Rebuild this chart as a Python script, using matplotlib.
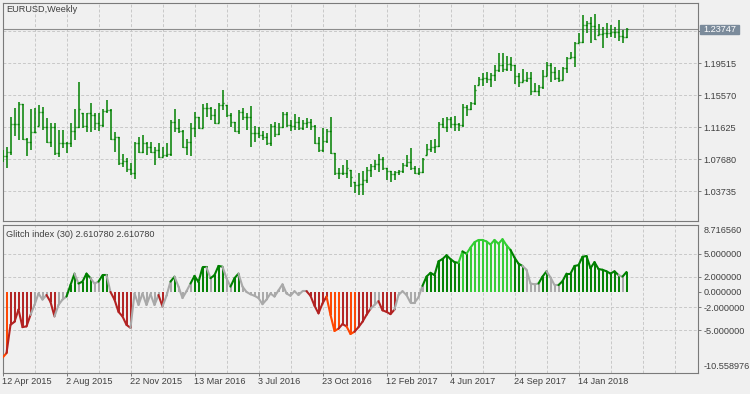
import numpy as np
import pandas as pd
import matplotlib
matplotlib.use("Agg")
import matplotlib.pyplot as plt
from matplotlib.collections import LineCollection
from matplotlib.patches import Rectangle

W, H = 750, 394
plt.rcParams["font.family"] = ["Liberation Sans", "DejaVu Sans"]
FS = 6.6
TXT = "#404040"
BG = "#f0f0f0"
GRID = "#c8c8c8"
BORDER = "#7a7a7a"
BAR = "#008000"

# weekly EURUSD bars, first bar = week of 12 Apr 2015
start_date = "2015-04-12"
open0 = 1.0760
high = [1.0882, 1.0924, 1.1293, 1.1405, 1.1474, 1.1450, 1.1026, 1.1384, 1.1396, 1.1433,
        1.1413, 1.1281, 1.1211, 1.1211, 1.1129, 1.1129, 1.0985, 1.1211, 1.1384, 1.1725,
        1.1335, 1.1343, 1.1458, 1.1335, 1.1335, 1.1388, 1.1499, 1.1384, 1.1108, 1.1047,
        1.0833, 1.0780, 1.0718, 1.0985, 1.1047, 1.1067, 1.0985, 1.0985, 1.0924, 1.0965,
        1.0924, 1.0973, 1.1252, 1.1384, 1.1265, 1.1129, 1.1014, 1.1211, 1.1347, 1.1293,
        1.1450, 1.1458, 1.1417, 1.1384, 1.1458, 1.1622, 1.1437, 1.1335, 1.1232, 1.1376,
        1.1396, 1.1335, 1.1425, 1.1179, 1.1162, 1.1121, 1.1096, 1.1203, 1.1232, 1.1220,
        1.1355, 1.1355, 1.1252, 1.1326, 1.1285, 1.1252, 1.1273, 1.1260, 1.1191, 1.1047,
        1.1149, 1.1137, 1.1293, 1.0841, 1.0657, 1.0698, 1.0759, 1.0636, 1.0492, 1.0595,
        1.0628, 1.0677, 1.0710, 1.0759, 1.0829, 1.0800, 1.0657, 1.0628, 1.0628, 1.0636,
        1.0718, 1.0817, 1.0903, 1.0690, 1.0657, 1.0780, 1.0957, 1.1006, 1.1014, 1.1232,
        1.1273, 1.1285, 1.1293, 1.1301, 1.1220, 1.1450, 1.1437, 1.1478, 1.1684, 1.1787,
        1.1836, 1.1848, 1.1836, 1.1931, 1.2074, 1.2083, 1.2042, 1.2033, 1.1931, 1.1828,
        1.1881, 1.1848, 1.1848, 1.1704, 1.1684, 1.1869, 1.1972, 1.1960, 1.1910, 1.1869,
        1.1910, 1.2033, 1.2095, 1.2218, 1.2321, 1.2547, 1.2477, 1.2526, 1.2555, 1.2436,
        1.2403, 1.2444, 1.2424, 1.2403, 1.2485, 1.2362, 1.2382]
low = [1.0739, 1.0657, 1.0820, 1.1055, 1.1006, 1.1006, 1.0813, 1.0882, 1.1088, 1.1179,
       1.1129, 1.0965, 1.0924, 1.0821, 1.0800, 1.0903, 1.0841, 1.0924, 1.1006, 1.1149,
       1.1149, 1.1108, 1.1108, 1.1129, 1.1121, 1.1170, 1.1335, 1.1006, 1.0862, 1.0698,
       1.0677, 1.0616, 1.0575, 1.0521, 1.0841, 1.0841, 1.0821, 1.0841, 1.0698, 1.0780,
       1.0792, 1.0800, 1.0813, 1.1108, 1.1088, 1.0903, 1.0821, 1.0813, 1.1047, 1.1137,
       1.1149, 1.1293, 1.1252, 1.1203, 1.1211, 1.1376, 1.1293, 1.1170, 1.1108, 1.1080,
       1.1252, 1.1129, 1.0924, 1.0985, 1.1026, 1.1006, 1.0944, 1.0932, 1.1047, 1.1067,
       1.1149, 1.1170, 1.1121, 1.1129, 1.1129, 1.1129, 1.1149, 1.1129, 1.0957, 1.0862,
       1.0862, 1.0965, 1.0833, 1.0575, 1.0521, 1.0575, 1.0534, 1.0430, 1.0356, 1.0328,
       1.0328, 1.0471, 1.0554, 1.0636, 1.0616, 1.0636, 1.0513, 1.0492, 1.0513, 1.0575,
       1.0595, 1.0669, 1.0636, 1.0587, 1.0575, 1.0595, 1.0821, 1.0862, 1.0841, 1.0924,
       1.1149, 1.1108, 1.1149, 1.1121, 1.1121, 1.1170, 1.1301, 1.1376, 1.1437, 1.1684,
       1.1672, 1.1713, 1.1655, 1.1733, 1.1848, 1.1848, 1.1861, 1.1861, 1.1696, 1.1663,
       1.1725, 1.1725, 1.1561, 1.1594, 1.1548, 1.1630, 1.1795, 1.1725, 1.1746, 1.1725,
       1.1746, 1.1836, 1.2013, 1.1910, 1.2198, 1.2206, 1.2329, 1.2198, 1.2239, 1.2300,
       1.2144, 1.2259, 1.2272, 1.2259, 1.2231, 1.2206, 1.2259]
close = [1.0808, 1.0862, 1.1203, 1.1203, 1.1450, 1.1014, 1.0985, 1.1108, 1.1108, 1.1355,
         1.1170, 1.0985, 1.1170, 1.0841, 1.0973, 1.0973, 1.0965, 1.1117, 1.1170, 1.1384,
         1.1179, 1.1335, 1.1314, 1.1211, 1.1191, 1.1368, 1.1376, 1.1014, 1.1047, 1.0718,
         1.0751, 1.0644, 1.0595, 1.0965, 1.0862, 1.0973, 1.0924, 1.0862, 1.0882, 1.0800,
         1.0821, 1.0833, 1.1232, 1.1149, 1.1121, 1.0924, 1.0985, 1.1149, 1.1285, 1.1149,
         1.1396, 1.1396, 1.1314, 1.1220, 1.1437, 1.1458, 1.1314, 1.1232, 1.1121, 1.1355,
         1.1293, 1.1285, 1.1088, 1.1088, 1.1067, 1.1039, 1.0973, 1.1179, 1.1080, 1.1170,
         1.1322, 1.1191, 1.1179, 1.1232, 1.1149, 1.1220, 1.1232, 1.1179, 1.0973, 1.0882,
         1.0998, 1.1121, 1.0850, 1.0595, 1.0595, 1.0603, 1.0657, 1.0546, 1.0451, 1.0463,
         1.0513, 1.0636, 1.0685, 1.0710, 1.0768, 1.0657, 1.0628, 1.0587, 1.0616, 1.0628,
         1.0698, 1.0739, 1.0657, 1.0603, 1.0616, 1.0768, 1.0895, 1.0924, 1.0932, 1.1203,
         1.1170, 1.1260, 1.1203, 1.1203, 1.1191, 1.1417, 1.1384, 1.1458, 1.1622, 1.1754,
         1.1766, 1.1754, 1.1807, 1.1869, 1.1931, 1.1877, 1.1943, 1.1931, 1.1795, 1.1725,
         1.1746, 1.1766, 1.1614, 1.1614, 1.1655, 1.1795, 1.1931, 1.1848, 1.1766, 1.1746,
         1.1890, 1.2013, 1.2025, 1.2198, 1.2218, 1.2424, 1.2444, 1.2411, 1.2247, 1.2313,
         1.2321, 1.2321, 1.2342, 1.2342, 1.2288, 1.2272, 1.23747]
bid = 1.23747

price_ticks = [1.03735, 1.07680, 1.11625, 1.15570, 1.19515, 1.23460]

# Glitch index (30) values and colour state per bar
# O = strong down, R = down, G = neutral, N = up, L = strong up
glitch = [-8.6, -8.0, -4.3, -3.9, -2.3, -4.6, -4.5, -3.0, -1.7, -0.2,
          -1.0, -0.4, -1.3, -3.2, -1.7, -1.0, -0.6, 0.9, 2.4, 1.1,
          1.35, 2.4, 1.8, 1.1, 1.35, 2.2, 2.2, 0.0, -1.0, -2.6,
          -3.2, -4.3, -4.7, -0.2, -1.7, -0.2, -1.7, -0.3, -1.7, -0.4,
          -1.9, -0.5, 1.35, 2.0, 0.7, -0.8, 0.1, 1.1, 2.1, 1.3,
          3.2, 3.2, 1.8, 2.2, 3.4, 3.3, 1.8, 0.7, 1.8, 2.4,
          0.7, 0.0, -0.3, -0.5, -0.8, -1.6, -1.0, -0.2, -0.6, 0.2,
          1.0, -0.2, -0.5, 0.1, -0.4, 0.1, 0.1, -0.5, -1.8, -2.8,
          -1.5, -0.6, -3.0, -5.1, -4.8, -4.2, -4.5, -5.5, -5.2, -4.6,
          -3.9, -3.0, -2.2, -1.7, -1.2, -2.4, -2.6, -2.9, -2.3, -0.4,
          0.1, -0.4, -1.4, -1.4, -0.7, 0.8, 2.0, 2.5, 2.2, 4.0,
          4.3, 4.8, 4.3, 3.9, 3.8, 5.3, 5.0, 5.8, 6.5, 6.8,
          6.8, 6.6, 6.2, 6.8, 6.3, 6.9, 6.1, 5.5, 4.5, 3.7,
          3.4, 2.9, 1.1, 1.0, 1.1, 2.0, 2.7, 1.9, 0.9, 0.9,
          1.4, 2.4, 2.4, 3.4, 3.5, 4.6, 4.7, 3.1, 3.9, 3.0,
          2.9, 2.7, 2.4, 2.7, 2.2, 2.0, 2.61078]
state = list("OORRRRRRGG" "GGRRGGGNNG" "NNNGGNNGRR" "RRRGGGGGGG" "RGGNGGGGNN"
             "NNGNNNGGNN" "GGGGGGGGGG" "GGGGGGGRRR" "RROOORROOR" "RRRGGRRRRG"
             "GGGGGGNNNN" "NNNNNLNLLL" "LLLLLLLLNN" "NGGGGNNGGG" "NNNNNNNNNN"
             "NNNNNGN")
glitch_levels = [5, 2, 0, -2, -5]
glitch_max, glitch_min = 8.716560, -10.558976

state_col = {"O": "#ff4500", "R": "#b22222", "G": "#a9a9a9",
             "N": "#008000", "L": "#32cd32"}

x = np.arange(len(close))
high = np.array(high)
low = np.array(low)
close = np.array(close)
opens = np.clip(np.r_[open0, close[:-1]], low, high)
dates = pd.date_range(start_date, periods=len(close), freq="7D")

fig = plt.figure(figsize=(W / 100, H / 100), dpi=100, facecolor=BG)


def px_axes(x0, y0, x1, y1):
    a = fig.add_axes([x0 / W, 1 - y1 / H, (x1 - x0) / W, (y1 - y0) / H])
    a.set_facecolor(BG)
    for sp in a.spines.values():
        sp.set_color(BORDER)
        sp.set_linewidth(0.8)
    return a


ax = px_axes(2.5, 2.5, 697.7, 221)
ax2 = px_axes(2.5, 224.5, 697.7, 372.7)

XMAX = (697.7 - 2.5) / 4
dash = (0, (3, 2))

# price panel
ax.set_xlim(0, XMAX)
ax.set_ylim(1.00074, 1.27011)
for g in range(8, int(XMAX) + 1, 8):
    ax.axvline(g, color=GRID, lw=0.7, ls=dash, zorder=0)
    ax2.axvline(g, color=GRID, lw=0.7, ls=dash, zorder=0)
for p in price_ticks:
    ax.axhline(p, color=GRID, lw=0.7, ls=dash, zorder=0)
ax.axhline(bid, color="#8c8c8c", lw=0.8, zorder=1)

ax.vlines(x, low, high, color=BAR, lw=1.1, zorder=3)
ax.hlines(opens, x - 0.33, x, color=BAR, lw=1.0, zorder=3)
ax.hlines(close, x, x + 0.33, color=BAR, lw=1.0, zorder=3)

ax.set_xticks([])
ax.yaxis.tick_right()
ax.set_yticks(price_ticks)
ax.set_yticklabels([f"{p:.5f}" for p in price_ticks[:-1]] + [""])
ax.tick_params(axis="y", direction="out", length=2.2, width=0.7, color=BORDER,
               labelsize=FS, labelcolor=TXT, pad=2)

# indicator panel
ax2.set_xlim(0, XMAX)
ax2.set_ylim(glitch_min, 8.82)
for lv in glitch_levels:
    if lv != 0:
        ax2.axhline(lv, color=GRID, lw=0.7, ls=dash, zorder=0)
cols = [state_col[s] for s in state]
ax2.vlines(x, 0, glitch, colors=cols, lw=1.4, zorder=2)
segs = [[(x[i - 1], glitch[i - 1]), (x[i], glitch[i])] for i in range(1, len(x))]
ax2.add_collection(LineCollection(segs, colors=cols[1:], linewidths=1.5,
                                  capstyle="round", zorder=3))

ax2.yaxis.tick_right()
ax2.set_yticks(glitch_levels)
ax2.set_yticklabels([f"{v:.6f}" for v in glitch_levels])
ax2.tick_params(axis="y", direction="out", length=2.2, width=0.7, color=BORDER,
                labelsize=FS, labelcolor=TXT, pad=2)

tick_idx = x[::16]
ax2.set_xticks(tick_idx)
ax2.set_xticklabels([f"{d.day} {d:%b %Y}" for d in dates[tick_idx]])
ax2.tick_params(axis="x", direction="out", length=2.2, width=0.7, color=BORDER,
                labelsize=FS, labelcolor=TXT, pad=1)
plt.setp(ax2.get_xticklabels(), ha="left")

# texts and current price box
fig.text(6.7 / W, 1 - 9.3 / H, "EURUSD,Weekly", fontsize=FS, color=TXT, va="center")
fig.text(6 / W, 1 - 234.7 / H,
         f"Glitch index (30) {glitch[-1]:.6f} {glitch[-1]:.6f}",
         fontsize=FS, color=TXT, va="center")
fig.text(703.5 / W, 1 - 230.7 / H, f"{glitch_max:.6f}", fontsize=FS, color=TXT, va="center")
fig.text(703.5 / W, 1 - 366.7 / H, f"{glitch_min:.6f}", fontsize=FS, color=TXT, va="center")

fig.patches.append(Rectangle((700 / W, 1 - 34.3 / H), 39.3 / W, 9.6 / H,
                             transform=fig.transFigure, color="#7b8b9b", zorder=5))
fig.text(703.5 / W, 1 - 29.5 / H, f"{bid:.5f}", fontsize=FS, color="white",
         va="center", zorder=6)

fig.savefig("out.png", dpi=100, facecolor=BG)
